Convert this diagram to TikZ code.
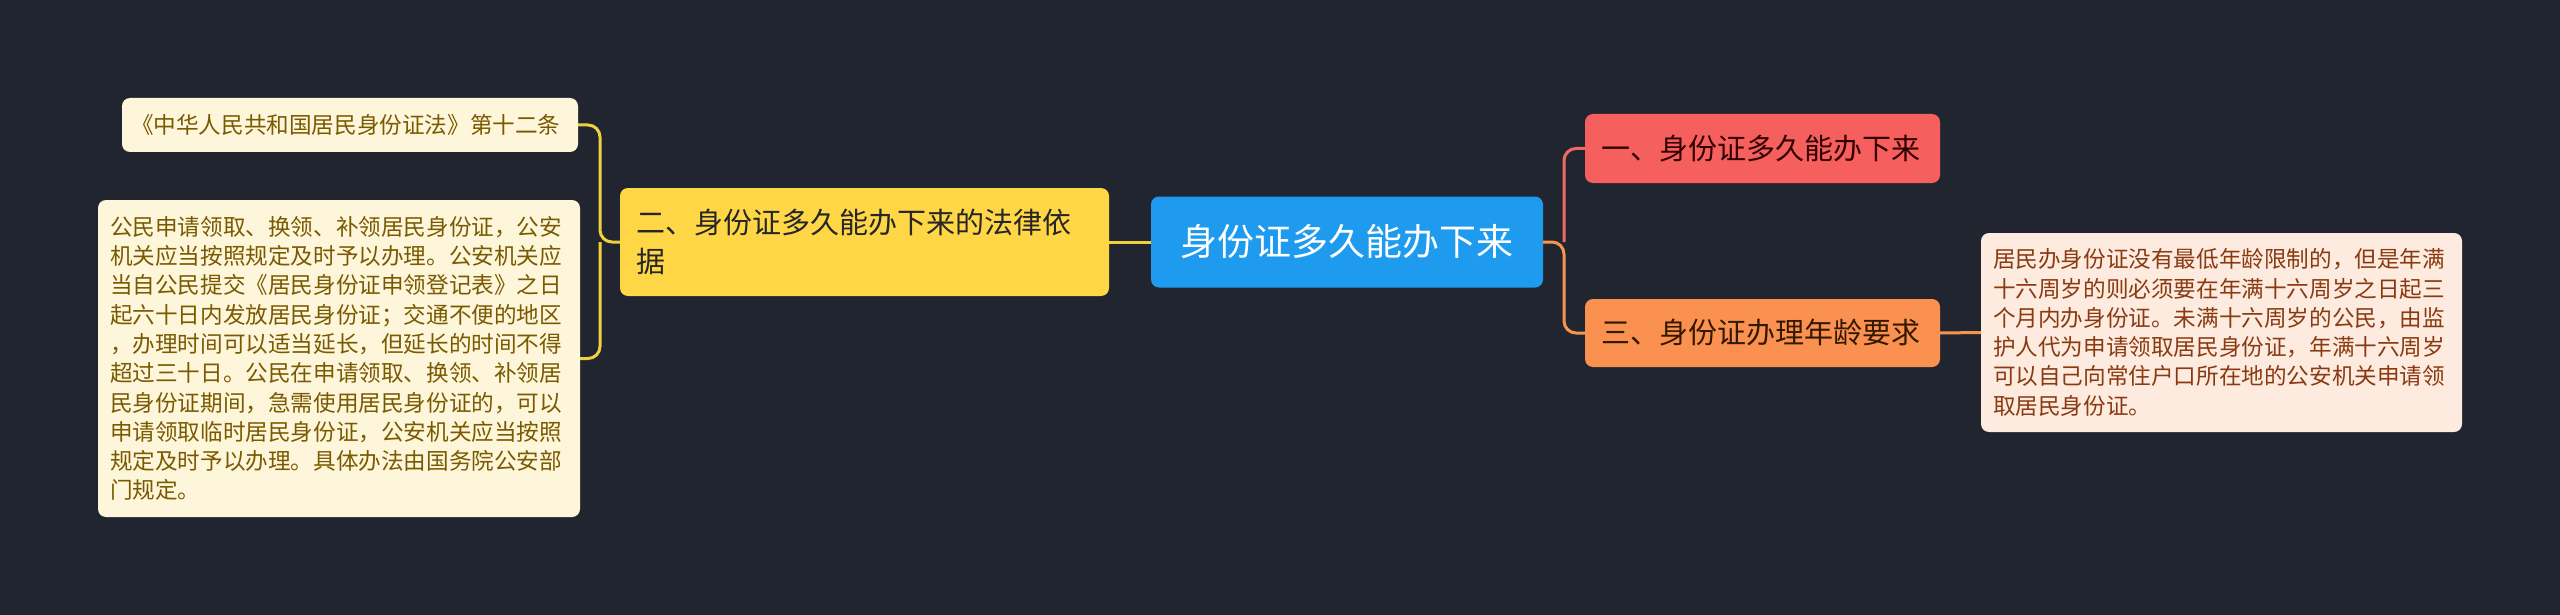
\documentclass[tikz,border=0pt]{standalone}
\usepackage{fontspec}
\setmainfont{Noto Sans CJK SC}
\usetikzlibrary{positioning}
\definecolor{bgnavy}{HTML}{21252F}
\definecolor{rootblue}{HTML}{1E9BEF}
\definecolor{lawyellow}{HTML}{FFD746}
\definecolor{notecream}{HTML}{FEF6DA}
\definecolor{notetext}{HTML}{7A5A00}
\definecolor{redtopic}{HTML}{F5605F}
\definecolor{orangetopic}{HTML}{FA9150}
\definecolor{peachnote}{HTML}{FDEBDF}
\definecolor{peachtext}{HTML}{8A3A10}
\definecolor{linkyellow}{HTML}{F2CF3E}
\definecolor{linkred}{HTML}{EE6A62}
\definecolor{linkorange}{HTML}{F7954F}

\begin{document}
\begin{tikzpicture}[
		x=1pt, y=-1pt,
		box/.style={rounded corners=8pt, inner ysep=0pt, align=left},
		roottopic/.style={box, fill=rootblue, text=white, align=center, font=\fontsize{37}{44}\selectfont},
		topic/.style={box, inner xsep=16pt, font=\fontsize{29}{39}\selectfont},
		note/.style={box, inner xsep=12pt, font=\fontsize{22.6}{29.3}\selectfont},
		link/.style={line width=3pt, rounded corners=12pt}
		]
		
		% background
		\fill[bgnavy] (0,0) rectangle (2560,615);
		\useasboundingbox (0,0) rectangle (2560,615);
		
		% ==========================================
		% 1. Root
		% ==========================================
		\node[roottopic, minimum width=392pt, minimum height=91pt] (root) at (1347,242) {身份证多久能办下来};
		
		% ==========================================
		% 2. Left branch: legal basis
		% ==========================================
		\node[topic, fill=lawyellow, text=black!85, text width=457pt, minimum height=108pt] (basis) at (864.5,242)
		{二、身份证多久能办下来的法律依\\据};
		
		\node[note, fill=notecream, text=notetext, inner xsep=9pt, text width=438pt, minimum height=54pt] (lawname) at (350,125)
		{《中华人民共和国居民身份证法》第十二条};
		
		\node[note, fill=notecream, text=notetext, text width=458pt, minimum height=317pt] (lawtext) at (339,358.5)
		{公民申请领取、换领、补领居民身份证，公安\\
		机关应当按照规定及时予以办理。公安机关应\\
		当自公民提交《居民身份证申领登记表》之日\\
		起六十日内发放居民身份证；交通不便的地区\\
		，办理时间可以适当延长，但延长的时间不得\\
		超过三十日。公民在申请领取、换领、补领居\\
		民身份证期间，急需使用居民身份证的，可以\\
		申请领取临时居民身份证，公安机关应当按照\\
		规定及时予以办理。具体办法由国务院公安部\\
		门规定。};
		
		\coordinate (lj) at (600,242);
		\draw[link, linkyellow] (root.west) -- (basis.east);
		\draw[link, linkyellow] (basis.west) -- (lj) |- (lawname.east);
		\draw[link, linkyellow] (lj) |- (lawtext.east);
		
		% ==========================================
		% 3. Right branches: time and age
		% ==========================================
		\node[topic, fill=redtopic, text=black!80!red, text width=323pt, minimum height=69pt] (howlong) at (1762.5,148.5)
		{一、身份证多久能办下来};
		
		\node[topic, fill=orangetopic, text=black!80!orange, text width=323pt, minimum height=68pt] (agereq) at (1762.5,333)
		{三、身份证办理年龄要求};
		
		\node[note, fill=peachnote, text=peachtext, text width=457pt, minimum height=199pt] (agetext) at (2221.5,332.5)
		{居民办身份证没有最低年龄限制的，但是年满\\
		十六周岁的则必须要在年满十六周岁之日起三\\
		个月内办身份证。未满十六周岁的公民，由监\\
		护人代为申请领取居民身份证，年满十六周岁\\
		可以自己向常住户口所在地的公安机关申请领\\
		取居民身份证。};
		
		\coordinate (rj) at (1564,242);
		\draw[link, linkred] (rj) |- (howlong.west);
		\draw[link, linkorange] (root.east) -- (rj) |- (agereq.west);
		\draw[link, linkorange] (agereq.east) -- (agetext.west);
		
	\end{tikzpicture}
\end{document}
